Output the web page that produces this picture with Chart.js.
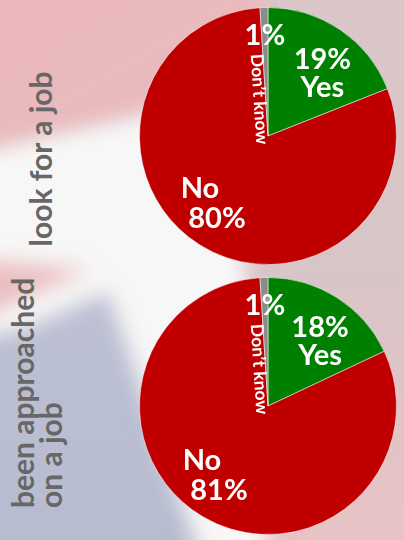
<!DOCTYPE html>
<html><head><meta charset="utf-8">
<script src="https://cdn.jsdelivr.net/npm/chart.js@4"></script>
<style>
html,body{margin:0;padding:0;width:404px;height:540px;overflow:hidden;font-family:Lato,"Open Sans",sans-serif}
#bg{position:absolute;left:0;top:0;width:404px;height:540px;overflow:hidden;background:linear-gradient(180deg,#dbc7c9 0%,#d8c5c7 50%,#e8c3c5 100%)}
.wrap{position:absolute;left:-30px;top:-30px;width:464px;height:600px;filter:blur(10px)}
.blob{position:absolute;left:0;top:0;width:464px;height:600px}
.q{position:absolute;color:#676767;font-weight:700;font-size:30px;white-space:nowrap;transform:rotate(-90deg);transform-origin:50% 50%}
.pie{position:absolute;left:139px;width:258px;height:258px}
</style></head>
<body>
<div id="bg">
  <div class="wrap"><div class="blob" style="background:linear-gradient(150deg,#ecb6b9 0%,#e4c2c4 70%);clip-path:polygon(0 0,300px 0,270px 130px,0 185px)"></div></div>
  <div class="wrap"><div class="blob" style="background:#f8f7f7;clip-path:polygon(0 185px,250px 128px,275px 300px,300px 600px,0 600px)"></div></div>
  <div class="wrap"><div class="blob" style="background:#e9bfc1;clip-path:polygon(0 288px,120px 300px,0 352px)"></div></div>
  <div class="wrap"><div class="blob" style="background:linear-gradient(180deg,#c3c6d7 0%,#b7bbcf 100%);clip-path:polygon(138px 322px,50px 360px,0 368px,0 600px,235px 600px)"></div></div>
</div>
<div class="q" id="q1" style="left:-80px;top:142px;width:240px;height:34px;line-height:34px;text-align:center"></div>
<div class="q" id="q2" style="left:-84px;top:360px;width:240px;height:56px;line-height:28px;text-align:left"></div>
<div class="pie" style="top:7px"><canvas id="c1" width="258" height="258"></canvas></div>
<div class="pie" style="top:277px"><canvas id="c2" width="258" height="258"></canvas></div>
<script>
const categories = ['Yes', 'No', 'Don\u2019t know'];
const lookForJob = [19, 80, 1];
const approachedJob = [18, 81, 1];
const questionLabels = [['look for a job'], ['been approached', 'on a job']];
const sliceColors = ['#008000', '#c00000', '#8c8c8c'];

document.getElementById('q1').innerHTML = questionLabels[0].join('<br>');
document.getElementById('q2').innerHTML = questionLabels[1].join('<br>');

const labelPlugin = {
  id: 'sliceLabels',
  afterDatasetsDraw(chart) {
    const ctx = chart.ctx;
    const meta = chart.getDatasetMeta(0);
    const vals = chart.data.datasets[0].data;
    const names = chart.data.labels;
    ctx.save();
    ctx.fillStyle = '#ffffff';
    ctx.textBaseline = 'middle';
    ctx.textAlign = 'center';
    meta.data.forEach((arc, i) => {
      const {x, y, startAngle, endAngle, outerRadius} = arc.getProps(['x','y','startAngle','endAngle','outerRadius'], true);
      const pct = vals[i] + '%';
      if (i === 0) {
        const a = startAngle + (endAngle - startAngle) * 0.6;
        const r = outerRadius * 0.645;
        const cx = x + Math.cos(a) * r, cy = y + Math.sin(a) * r;
        ctx.font = 'bold 29px Lato';
        ctx.fillText(pct, cx, cy - 14);
        ctx.fillText(names[i], cx, cy + 14);
      } else if (i === 1) {
        const a = startAngle + (endAngle - startAngle) * 0.53;
        const r = outerRadius * 0.70;
        const cx = x + Math.cos(a) * r, cy = y + Math.sin(a) * r;
        ctx.font = 'bold 29px Lato';
        ctx.fillText(names[i], cx - 9, cy - 15);
        ctx.fillText(pct, cx + 8, cy + 15);
      } else {
        const a = (startAngle + endAngle) / 2;
        const r = outerRadius * 0.78;
        ctx.font = 'bold 29px Lato';
        ctx.fillText(pct, x + Math.cos(a) * r, y + Math.sin(a) * r);
        ctx.save();
        ctx.translate(x, y);
        ctx.rotate(startAngle + Math.PI);
        ctx.font = 'bold 17.5px Lato';
        ctx.textAlign = 'right';
        ctx.fillText(names[i], 8, 6.5);
        ctx.restore();
      }
    });
    ctx.restore();
  }
};

function makePie(id, values) {
  new Chart(document.getElementById(id), {
    type: 'pie',
    data: {
      labels: categories,
      datasets: [{ data: values, backgroundColor: sliceColors, borderColor: 'rgba(255,255,255,0.5)', borderWidth: 1, hoverOffset: 0 }]
    },
    options: {
      responsive: false,
      animation: false,
      layout: { padding: 0 },
      plugins: { legend: { display: false }, tooltip: { enabled: false } }
    },
    plugins: [labelPlugin]
  });
}
makePie('c1', lookForJob);
makePie('c2', approachedJob);
</script>
</body></html>
